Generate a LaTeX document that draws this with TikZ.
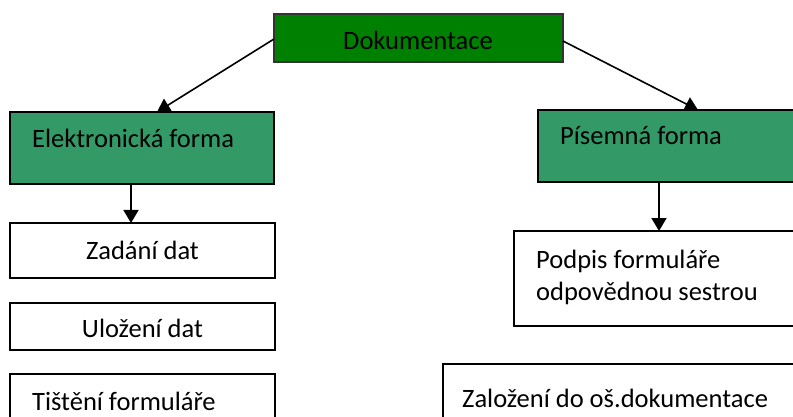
\documentclass[tikz,border=0pt]{standalone}
\usepackage{fontspec}
\setmainfont{Carlito}
\usetikzlibrary{arrows.meta,calc}
\definecolor{topgreen}{HTML}{008000}
\definecolor{formgreen}{HTML}{339966}
\tikzset{
  box/.style={draw=black, line width=1.4pt, rectangle, anchor=north west, inner sep=0pt, outer sep=0pt},
  topbox/.style={box, fill=topgreen, draw=black!80},
  formbox/.style={box, fill=formgreen},
  plainbox/.style={box, fill=white},
  txt/.style={inner sep=0pt, font=\fontsize{26.5}{32}\selectfont},
  link/.style={line width=1.6pt, -{Triangle[length=13pt,width=15pt]}}
}
\begin{document}
\begin{tikzpicture}[x=1pt,y=-1pt]
\useasboundingbox (0,0) rectangle (793,417);
\clip (0,0) rectangle (793,417);

% boxes
\node[topbox, minimum width=289pt, minimum height=48pt] (dok) at (274,14) {};
\node[formbox, minimum width=264pt, minimum height=72pt] (el) at (10,112) {};
\node[formbox, minimum width=280pt, minimum height=72pt] (pis) at (538,110) {};
\node[plainbox, minimum width=265pt, minimum height=55pt] (zad) at (10,223) {};
\node[plainbox, minimum width=265pt, minimum height=47pt] (ulo) at (10,303) {};
\node[plainbox, minimum width=265pt, minimum height=70pt] (tis) at (10,374) {};
\node[plainbox, minimum width=300pt, minimum height=95pt] (pod) at (514,231) {};
\node[plainbox, minimum width=370pt, minimum height=70pt] (zal) at (443,364) {};

% texts
\node[txt, anchor=base] (tdok) at (418,50) {Dokumentace};
\node[txt, anchor=base west] (tel) at (32,148) {Elektronická forma};
\node[txt, anchor=base west] (tpis) at (560,145) {Písemná forma};
\node[txt, anchor=base] (tzad) at (142.5,259) {Zadání dat};
\node[txt, anchor=base] (tulo) at (142.5,337) {Uložení dat};
\node[txt, anchor=base west] (ttis) at (32,410) {Tištění formuláře};
\node[txt, anchor=base west] (tpod1) at (536,268) {Podpis formuláře};
\node[txt, anchor=base west] (tpod2) at (536,300) {odpovědnou sestrou};
\node[txt, anchor=base west] (tzal) at (462,407) {Založení do oš.dokumentace};

% connectors
\draw[link] ($(dok.north west)+(0,25)$) -- ($(el.north west)+(147,0)$);
\draw[link] ($(dok.north east)+(0,27)$) -- ($(pis.north west)+(160,0)$);
\draw[link] ($(el.south west)+(121,0)$) -- ($(zad.north west)+(121,0)$);
\draw[link] ($(pis.south west)+(121,0)$) -- ($(pod.north west)+(145,0)$);
\end{tikzpicture}
\end{document}
